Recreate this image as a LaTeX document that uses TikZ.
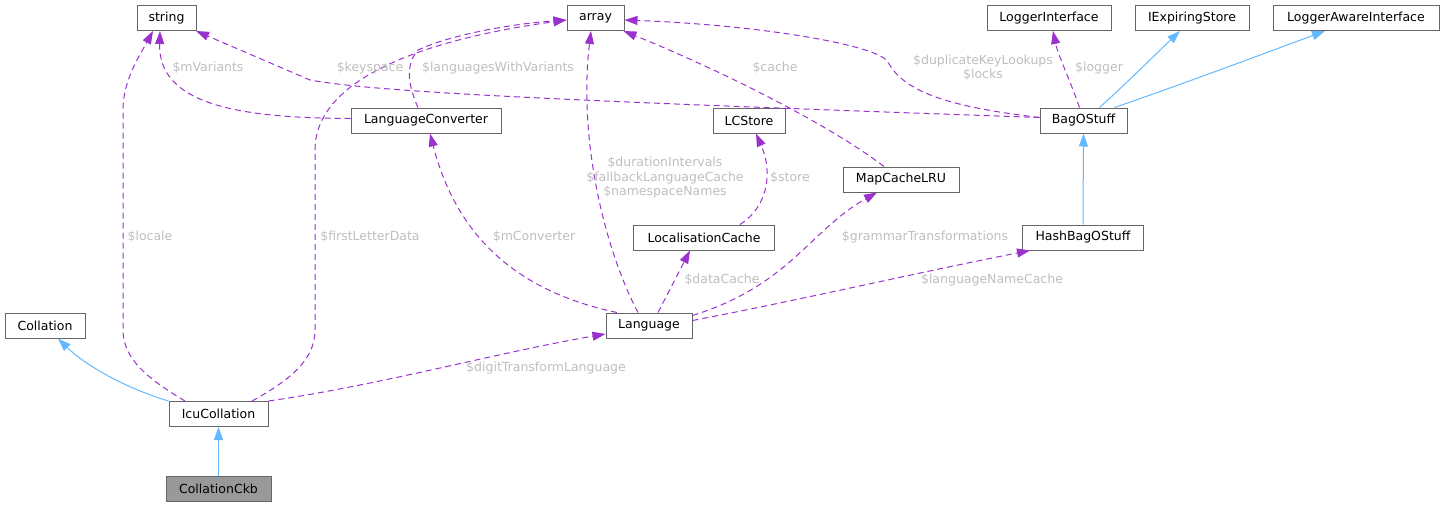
\documentclass[tikz,border=0pt]{standalone}
\usepackage{fontspec}
\setmainfont{DejaVu Sans}
\usetikzlibrary{arrows.meta}
\definecolor{edgep}{HTML}{9A32CD}
\definecolor{edgeb}{HTML}{63B8FF}
\definecolor{nodeb}{HTML}{666666}
\definecolor{lblc}{HTML}{BEBEBE}
\definecolor{curfill}{HTML}{999999}
\begin{document}
\begin{tikzpicture}[x=1pt,y=-1pt,
  cls/.style={draw=nodeb, fill=white, line width=1pt, minimum height=25pt, inner sep=0pt, font=\fontsize{12.5}{14}\selectfont, text=black},
  usage/.style={draw=edgep, line width=1pt, dash pattern=on 6pt off 4pt, -{Triangle[length=13pt,width=9pt]}},
  inherit/.style={draw=edgeb, line width=1pt, -{Triangle[length=13pt,width=9pt]}},
  lbl/.style={text=lblc, font=\fontsize{12.5}{14.5}\selectfont, inner sep=0pt, align=center}
]
\useasboundingbox (0,0) rectangle (1444,507);
% nodes
\node[cls, minimum width=59] (string) at (166.5,18) {string};
\node[cls, minimum width=57] (array) at (595.5,18) {array};
\node[cls, minimum width=124] (logif) at (1049,18) {LoggerInterface};
\node[cls, minimum width=114] (iexp) at (1192,18) {IExpiringStore};
\node[cls, minimum width=166] (logaw) at (1356,18) {LoggerAwareInterface};
\node[cls, minimum width=150] (langconv) at (426,120.5) {LanguageConverter};
\node[cls, minimum width=72] (lcstore) at (749,120.5) {LCStore};
\node[cls, minimum width=87] (bag) at (1083.5,120.5) {BagOStuff};
\node[cls, minimum width=116] (mapcache) at (901,179.5) {MapCacheLRU};
\node[cls, minimum width=141] (loccache) at (704,237.5) {LocalisationCache};
\node[cls, minimum width=121] (hashbag) at (1083,237.5) {HashBagOStuff};
\node[cls, minimum width=80] (collation) at (45,325.5) {Collation};
\node[cls, minimum width=86] (language) at (649,325.5) {Language};
\node[cls, minimum width=99] (icu) at (218.5,414) {IcuCollation};
\node[cls, minimum width=105, fill=curfill] (ckb) at (218.5,489) {CollationCkb};

% inheritance edges
\draw[inherit] (ckb.north) -- (icu.south);
\draw[inherit] (icu.north west) .. controls (125,388) and (85,365) .. ([xshift=13]collation.south);
\draw[inherit] (hashbag.north) -- (bag.south);
\draw[inherit] ([xshift=16]bag.north) .. controls (1130,80) and (1160,50) .. ([xshift=-12]iexp.south);
\draw[inherit] ([xshift=31]bag.north) .. controls (1180,85) and (1260,55) .. ([xshift=-31]logaw.south);

% usage edges
\draw[usage] ([xshift=-33.5]icu.north) .. controls (150,380) and (123,360) .. (123,330) -- (123,110) .. controls (123,80) and (140,55) .. ([xshift=-13.5]string.south);
\draw[usage] ([xshift=33.5]icu.north) .. controls (290,380) and (315,360) .. (315,330) -- (315,150) .. controls (315,80) and (420,40) .. ([yshift=-2]array.west);
\draw[usage] ([xshift=-8]langconv.north) .. controls (408,85) and (405,65) .. (418,50) .. controls (450,35) and (510,24) .. ([yshift=-2]array.west);
\draw[usage] ([xshift=-11]language.north) .. controls (605,250) and (578,140) .. ([xshift=-4.5]array.south);
\draw[usage] ([xshift=-17]mapcache.north) .. controls (830,125) and (720,70) .. ([xshift=-1]array.south east);
\draw[usage] ([yshift=3]bag.west) .. controls (960,108) and (905,95) .. (888,62) .. controls (878,45) and (760,25) .. ([yshift=-2]array.east);
\draw[usage] ([yshift=3]bag.west) .. controls (600,102) and (380,93) .. (310,80) -- ([xshift=29.5]string.south);
\draw[usage] ([yshift=2]langconv.west) .. controls (240,118) and (158,105) .. ([xshift=-6.5]string.south);
\draw[usage] ([xshift=-4]bag.north) .. controls (1070,80) and (1058,55) .. ([xshift=4]logif.south);
\draw[usage] (icu.north east) .. controls (380,385) and (500,352) .. ([yshift=-8.5]language.west);
\draw[usage] ([xshift=-32]language.north) .. controls (510,290) and (455,230) .. ([xshift=4]langconv.south);
\draw[usage] ([xshift=9]language.north) -- ([xshift=-14]loccache.south);
\draw[usage] ([xshift=36]loccache.north) .. controls (770,205) and (772,170) .. ([xshift=7]lcstore.south);
\draw[usage] ([yshift=-3]language.north east) .. controls (790,285) and (810,230) .. ([xshift=-24]mapcache.south);
\draw[usage] ([yshift=5]language.east) .. controls (800,300) and (920,272) .. ([xshift=-53]hashbag.south);

% labels
\node[lbl] (l1) at (150,237) {\$locale};
\node[lbl] (l2) at (370,237) {\$firstLetterData};
\node[lbl] (l3) at (208,68) {\$mVariants};
\node[lbl] (l4) at (370,68) {\$keyspace};
\node[lbl] (l5) at (498,68) {\$languagesWithVariants};
\node[lbl] (l6) at (775,68) {\$cache};
\node[lbl] (l7) at (983,67.5) {\$duplicateKeyLookups\\\$locks};
\node[lbl] (l8) at (1099,68) {\$logger};
\node[lbl] (l9) at (665,178) {\$durationIntervals\\\$fallbackLanguageCache\\\$namespaceNames};
\node[lbl] (l10) at (790,178) {\$store};
\node[lbl] (l11) at (534,237) {\$mConverter};
\node[lbl] (l12) at (925,237) {\$grammarTransformations};
\node[lbl] (l13) at (722,280) {\$dataCache};
\node[lbl] (l14) at (992,280) {\$languageNameCache};
\node[lbl] (l15) at (546,368) {\$digitTransformLanguage};
\end{tikzpicture}
\end{document}
